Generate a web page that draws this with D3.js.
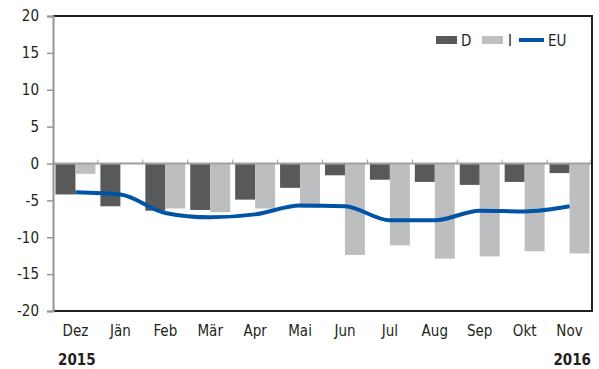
<!DOCTYPE html>
<html>
<head>
<meta charset="utf-8">
<script src="https://cdn.jsdelivr.net/npm/d3@7"></script>
<style>
  html, body { margin: 0; padding: 0; background: #fff; }
  svg { display: block; font-family: "DejaVu Sans Condensed", "DejaVu Sans", sans-serif; }
</style>
</head>
<body>
<svg id="chart" width="599" height="369"></svg>
<script>
// Monthly values, Dec 2015 – Nov 2016
const months = ["Dez", "Jän", "Feb", "Mär", "Apr", "Mai", "Jun", "Jul", "Aug", "Sep", "Okt", "Nov"];
const seriesD = [-4.2, -5.8, -6.4, -6.3, -4.9, -3.3, -1.6, -2.2, -2.5, -2.9, -2.5, -1.3];
const seriesI = [-1.4, 0.1, -6.1, -6.6, -6.1, -6.0, -12.4, -11.1, -12.9, -12.6, -11.9, -12.2];
const seriesEU = [-3.9, -4.2, -6.7, -7.3, -6.9, -5.7, -5.8, -7.7, -7.7, -6.4, -6.5, -5.8];
const yTicks = [20, 15, 10, 5, 0, -5, -10, -15, -20];
const yearLabels = ["2015", "2016"];

const barKeys = ["D", "I"];
const colors = { D: "#58595b", I: "#bcbec0", EU: "#0054a6" };
const textColor = "#231f20";

const svg = d3.select("#chart");
const plotLeft = 53, plotRight = 592, plotTop = 16, plotBottom = 311;

const x = d3.scaleBand().domain(months).range([plotLeft, plotRight]).padding(0);
const xInner = d3.scaleBand().domain(barKeys).range([0, x.bandwidth()]).paddingInner(0).paddingOuter(0.125);
const y = d3.scaleLinear().domain([-20, 20]).range([plotBottom, plotTop]);

// Bars
const rows = months.map((m, i) => ({ m, D: seriesD[i], I: seriesI[i] }));
svg.append("g").selectAll("g")
  .data(rows).join("g")
  .attr("transform", d => `translate(${x(d.m)},0)`)
  .selectAll("rect")
  .data(d => barKeys.map(k => ({ k, v: d[k] })))
  .join("rect")
  .attr("x", d => xInner(d.k))
  .attr("width", xInner.bandwidth())
  .attr("y", d => y(Math.max(0, d.v)))
  .attr("height", d => Math.abs(y(d.v) - y(0)))
  .attr("fill", d => colors[d.k]);

// Zero line with category ticks
svg.append("line")
  .attr("x1", plotLeft).attr("x2", plotRight)
  .attr("y1", y(0)).attr("y2", y(0))
  .attr("stroke", "#a0a1a3").attr("stroke-width", 2);
svg.append("g").selectAll("line")
  .data(months.slice(1).concat(["__end"]))
  .join("line")
  .attr("x1", d => d === "__end" ? plotRight - 1 : x(d))
  .attr("x2", d => d === "__end" ? plotRight - 1 : x(d))
  .attr("y1", y(0) - 4).attr("y2", y(0))
  .attr("stroke", "#a0a1a3").attr("stroke-width", 1);

// EU line
const line = d3.line()
  .x((d, i) => x(months[i]) + x.bandwidth() / 2)
  .y(d => y(d))
  .curve(d3.curveMonotoneX);
svg.append("path")
  .datum(seriesEU)
  .attr("d", line)
  .attr("fill", "none")
  .attr("stroke", colors.EU)
  .attr("stroke-width", 4);

// Frame: top, right, bottom
svg.append("path")
  .attr("d", `M${plotLeft},${plotTop}H${plotRight}V${plotBottom}H${plotLeft}`)
  .attr("fill", "none")
  .attr("stroke", "#231f20")
  .attr("stroke-width", 2);

// Y axis (plain hyphen for negatives)
const yAxis = d3.axisLeft(y).tickValues(yTicks).tickSize(6).tickPadding(8).tickFormat(d => String(d));
const gy = svg.append("g").attr("transform", `translate(${plotLeft},0)`).call(yAxis);
gy.select(".domain").attr("stroke", "#939598").attr("stroke-width", 2);
gy.selectAll(".tick line").attr("stroke", "#939598").attr("stroke-width", 1.5);
gy.selectAll(".tick text")
  .attr("fill", textColor)
  .style("font-size", "15px")
  .style("font-family", "\"DejaVu Sans Condensed\", sans-serif");

// X labels
const xAxis = d3.axisBottom(x).tickSize(0).tickPadding(14);
const gx = svg.append("g").attr("transform", `translate(0,${plotBottom})`).call(xAxis);
gx.select(".domain").remove();
gx.selectAll(".tick text")
  .attr("fill", textColor)
  .style("font-size", "15px")
  .style("font-family", "\"DejaVu Sans Condensed\", sans-serif");

// Year labels
svg.append("text")
  .attr("x", 58).attr("y", 365)
  .attr("fill", textColor)
  .style("font-size", "15px").style("font-weight", "bold")
  .text(yearLabels[0]);
svg.append("text")
  .attr("x", 591).attr("y", 365)
  .attr("text-anchor", "end")
  .attr("fill", textColor)
  .style("font-size", "15px").style("font-weight", "bold")
  .text(yearLabels[1]);

// Legend
const legend = svg.append("g").style("font-size", "15px").attr("fill", textColor);
legend.append("rect").attr("x", 436).attr("y", 36).attr("width", 21).attr("height", 8).attr("fill", colors.D);
legend.append("text").attr("x", 461).attr("y", 45.5).text("D");
legend.append("rect").attr("x", 482).attr("y", 36).attr("width", 21).attr("height", 8).attr("fill", colors.I);
legend.append("text").attr("x", 508).attr("y", 45.5).text("I");
legend.append("line").attr("x1", 519).attr("x2", 544).attr("y1", 40).attr("y2", 40)
  .attr("stroke", colors.EU).attr("stroke-width", 4);
legend.append("text").attr("x", 548).attr("y", 45.5).text("EU");
</script>
</body>
</html>
